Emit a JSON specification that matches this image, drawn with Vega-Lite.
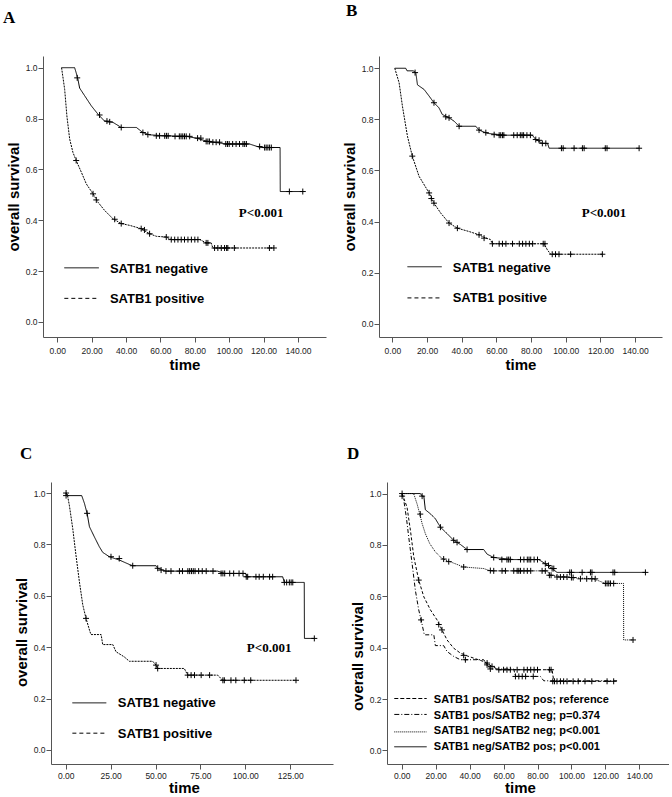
{
"$schema": "https://vega.github.io/schema/vega-lite/v6.json",
"background": "white",
"padding": {"left": 0, "top": 2, "right": 0, "bottom": 0},
"config": {
  "view": {"stroke": null},
  "axis": {"grid": false, "domainColor": "#555", "tickColor": "#555", "labelColor": "#222", "labelFont": "Liberation Sans", "labelFontSize": 8.5, "titleFont": "Liberation Sans", "titleFontSize": 15, "titleFontWeight": "bold", "titleColor": "#000", "tickSize": 5},
  "axisY": {"labelPadding": 1, "titlePadding": 4},
  "title": {"font": "Liberation Serif", "fontSize": 17, "fontWeight": "bold", "color": "#000", "anchor": "start", "frame": "group", "baseline": "alphabetic", "align": "left"}
},
"datasets": {
  "A_curve": [
    {"group":"neg","t":2.5,"s":1.0},{"group":"neg","t":10.1,"s":1.0},{"group":"neg","t":11,"s":0.98},{"group":"neg","t":12,"s":0.955},{"group":"neg","t":13,"s":0.92},{"group":"neg","t":16,"s":0.889},{"group":"neg","t":19.8,"s":0.85},{"group":"neg","t":23.7,"s":0.817},{"group":"neg","t":27.5,"s":0.79},{"group":"neg","t":32.4,"s":0.785},{"group":"neg","t":37.2,"s":0.765},{"group":"neg","t":46,"s":0.765},{"group":"neg","t":49.8,"s":0.745},{"group":"neg","t":53.7,"s":0.736},{"group":"neg","t":63.4,"s":0.732},{"group":"neg","t":75,"s":0.73},{"group":"neg","t":80.8,"s":0.723},{"group":"neg","t":87.6,"s":0.71},{"group":"neg","t":98.3,"s":0.70},{"group":"neg","t":111.8,"s":0.70},{"group":"neg","t":117.7,"s":0.687},{"group":"neg","t":129.6,"s":0.686},{"group":"neg","t":129.7,"s":0.513},{"group":"neg","t":142.8,"s":0.513},
    {"group":"pos","t":2.5,"s":1.0},{"group":"pos","t":4.3,"s":0.915},{"group":"pos","t":5.6,"s":0.81},{"group":"pos","t":7.2,"s":0.72},{"group":"pos","t":9.1,"s":0.667},{"group":"pos","t":11,"s":0.635},{"group":"pos","t":14,"s":0.589},{"group":"pos","t":16.9,"s":0.543},{"group":"pos","t":20.8,"s":0.504},{"group":"pos","t":23.7,"s":0.471},{"group":"pos","t":27.5,"s":0.439},{"group":"pos","t":32.4,"s":0.406},{"group":"pos","t":37.2,"s":0.387},{"group":"pos","t":42.1,"s":0.38},{"group":"pos","t":48.8,"s":0.367},{"group":"pos","t":53.7,"s":0.347},{"group":"pos","t":57.6,"s":0.337},{"group":"pos","t":63.4,"s":0.334},{"group":"pos","t":66.3,"s":0.324},{"group":"pos","t":83,"s":0.324},{"group":"pos","t":86.6,"s":0.311},{"group":"pos","t":89.5,"s":0.311},{"group":"pos","t":90.5,"s":0.291},{"group":"pos","t":126,"s":0.291}
  ],
  "A_cens": [
    {"t":11.6,"s":0.96},{"t":24.6,"s":0.814},{"t":28.9,"s":0.79},{"t":30.5,"s":0.787},{"t":37.2,"s":0.765},{"t":49.8,"s":0.745},{"t":52.7,"s":0.737},{"t":57.6,"s":0.732},{"t":59.5,"s":0.732},{"t":62.5,"s":0.732},{"t":63.5,"s":0.732},{"t":64.5,"s":0.732},{"t":68.5,"s":0.73},{"t":71,"s":0.73},{"t":72,"s":0.73},{"t":73,"s":0.73},{"t":74,"s":0.73},{"t":75,"s":0.73},{"t":77,"s":0.73},{"t":81.6,"s":0.723},{"t":83.5,"s":0.723},{"t":86.6,"s":0.71},{"t":87.6,"s":0.71},{"t":88.5,"s":0.71},{"t":90.5,"s":0.707},{"t":92.4,"s":0.707},{"t":94.4,"s":0.707},{"t":98,"s":0.70},{"t":99,"s":0.70},{"t":100,"s":0.70},{"t":102,"s":0.70},{"t":104,"s":0.70},{"t":106,"s":0.70},{"t":108,"s":0.70},{"t":109,"s":0.70},{"t":110,"s":0.70},{"t":117.7,"s":0.69},{"t":120.6,"s":0.686},{"t":121.5,"s":0.686},{"t":122.5,"s":0.686},{"t":123.5,"s":0.686},{"t":124.5,"s":0.686},{"t":135,"s":0.513},{"t":142.8,"s":0.513},
    {"t":11,"s":0.635},{"t":20.8,"s":0.504},{"t":22.7,"s":0.48},{"t":33.4,"s":0.404},{"t":37.2,"s":0.387},{"t":48.8,"s":0.367},{"t":50.7,"s":0.362},{"t":53.7,"s":0.347},{"t":63.4,"s":0.334},{"t":66.3,"s":0.324},{"t":68.3,"s":0.324},{"t":70.2,"s":0.324},{"t":72.1,"s":0.324},{"t":74,"s":0.324},{"t":76,"s":0.324},{"t":78,"s":0.324},{"t":80,"s":0.324},{"t":81.8,"s":0.324},{"t":86.6,"s":0.311},{"t":87.6,"s":0.311},{"t":91.5,"s":0.291},{"t":93.4,"s":0.291},{"t":95.4,"s":0.291},{"t":97.3,"s":0.291},{"t":98.5,"s":0.291},{"t":99.2,"s":0.291},{"t":103,"s":0.291},{"t":123.4,"s":0.291},{"t":126,"s":0.291}
  ],
  "A_leg": [{"group":"neg","t":4.1,"t2":24.2,"s":0.213},{"group":"pos","t":4.1,"t2":24.2,"s":0.093}],
  "A_text": [{"text":"SATB1 negative","t":30.6,"s":0.194},{"text":"SATB1 positive","t":30.6,"s":0.076}],
  "A_p": [{"text":"P<0.001","t":105.6,"s":0.411}],
  "B_curve": [
    {"group":"neg","t":1.4,"s":1.0},{"group":"neg","t":7.7,"s":1.0},{"group":"neg","t":8.5,"s":0.99},{"group":"neg","t":12,"s":0.99},{"group":"neg","t":13.5,"s":0.983},{"group":"neg","t":14.5,"s":0.935},{"group":"neg","t":18.3,"s":0.917},{"group":"neg","t":21.2,"s":0.891},{"group":"neg","t":24,"s":0.865},{"group":"neg","t":26.9,"s":0.845},{"group":"neg","t":28.8,"s":0.819},{"group":"neg","t":32.7,"s":0.806},{"group":"neg","t":35.6,"s":0.793},{"group":"neg","t":38.5,"s":0.773},{"group":"neg","t":48.1,"s":0.773},{"group":"neg","t":50,"s":0.758},{"group":"neg","t":54.8,"s":0.745},{"group":"neg","t":65.4,"s":0.738},{"group":"neg","t":80.7,"s":0.738},{"group":"neg","t":82.7,"s":0.721},{"group":"neg","t":86.5,"s":0.706},{"group":"neg","t":89.5,"s":0.706},{"group":"neg","t":90.4,"s":0.687},{"group":"neg","t":142.3,"s":0.687},
    {"group":"pos","t":1.4,"s":1.0},{"group":"pos","t":3.9,"s":0.943},{"group":"pos","t":5.8,"s":0.852},{"group":"pos","t":8.7,"s":0.734},{"group":"pos","t":11.5,"s":0.656},{"group":"pos","t":15.4,"s":0.577},{"group":"pos","t":21.2,"s":0.512},{"group":"pos","t":24,"s":0.472},{"group":"pos","t":27.9,"s":0.433},{"group":"pos","t":32.7,"s":0.394},{"group":"pos","t":37.5,"s":0.374},{"group":"pos","t":44.2,"s":0.361},{"group":"pos","t":50,"s":0.348},{"group":"pos","t":53.9,"s":0.335},{"group":"pos","t":56.5,"s":0.33},{"group":"pos","t":57.7,"s":0.313},{"group":"pos","t":87.5,"s":0.313},{"group":"pos","t":89.4,"s":0.289},{"group":"pos","t":91.3,"s":0.272},{"group":"pos","t":121.1,"s":0.272}
  ],
  "B_cens": [
    {"t":13.1,"s":0.983},{"t":24,"s":0.865},{"t":30.8,"s":0.81},{"t":32.7,"s":0.806},{"t":38.5,"s":0.773},{"t":50,"s":0.758},{"t":53.9,"s":0.748},{"t":58.7,"s":0.74},{"t":61.6,"s":0.738},{"t":62.5,"s":0.738},{"t":63.5,"s":0.738},{"t":64.3,"s":0.738},{"t":70,"s":0.738},{"t":72,"s":0.738},{"t":73.8,"s":0.738},{"t":74.8,"s":0.738},{"t":75.7,"s":0.738},{"t":77.6,"s":0.738},{"t":79.6,"s":0.738},{"t":82.7,"s":0.721},{"t":84.6,"s":0.718},{"t":86.5,"s":0.706},{"t":88.5,"s":0.706},{"t":97.5,"s":0.687},{"t":98.5,"s":0.687},{"t":104.8,"s":0.687},{"t":109.6,"s":0.687},{"t":110.6,"s":0.687},{"t":122.8,"s":0.687},{"t":123.8,"s":0.687},{"t":142.3,"s":0.687},
    {"t":11.5,"s":0.656},{"t":21.2,"s":0.512},{"t":22.5,"s":0.49},{"t":24,"s":0.472},{"t":32.7,"s":0.394},{"t":37.5,"s":0.374},{"t":50,"s":0.348},{"t":52.9,"s":0.335},{"t":57.7,"s":0.313},{"t":61.6,"s":0.313},{"t":63.5,"s":0.313},{"t":65.5,"s":0.313},{"t":69.3,"s":0.313},{"t":73.2,"s":0.313},{"t":75.1,"s":0.313},{"t":77,"s":0.313},{"t":79,"s":0.313},{"t":80.9,"s":0.313},{"t":87,"s":0.313},{"t":88,"s":0.313},{"t":92.2,"s":0.272},{"t":94.1,"s":0.272},{"t":96.1,"s":0.272},{"t":102.8,"s":0.272},{"t":121.1,"s":0.272}
  ],
  "B_leg": [{"group":"neg","t":8.7,"t2":28.5,"s":0.223},{"group":"pos","t":8.7,"t2":28.5,"s":0.101}],
  "B_text": [{"text":"SATB1 negative","t":34.8,"s":0.201},{"text":"SATB1 positive","t":34.8,"s":0.084}],
  "B_p": [{"text":"P<0.001","t":109.2,"s":0.419}],
  "C_curve": [
    {"group":"neg","t":0.2,"s":1.0},{"group":"neg","t":1.5,"s":0.99},{"group":"neg","t":8.9,"s":0.99},{"group":"neg","t":10.4,"s":0.96},{"group":"neg","t":11.9,"s":0.921},{"group":"neg","t":13.2,"s":0.869},{"group":"neg","t":15.9,"s":0.83},{"group":"neg","t":18.7,"s":0.791},{"group":"neg","t":20.6,"s":0.769},{"group":"neg","t":24.3,"s":0.752},{"group":"neg","t":29.9,"s":0.739},{"group":"neg","t":35.4,"s":0.722},{"group":"neg","t":37.3,"s":0.717},{"group":"neg","t":50.3,"s":0.717},{"group":"neg","t":51.2,"s":0.707},{"group":"neg","t":55.8,"s":0.696},{"group":"neg","t":84.6,"s":0.696},{"group":"neg","t":88.3,"s":0.687},{"group":"neg","t":100,"s":0.687},{"group":"neg","t":101.3,"s":0.674},{"group":"neg","t":120.8,"s":0.674},{"group":"neg","t":121.7,"s":0.652},{"group":"neg","t":132.8,"s":0.652},{"group":"neg","t":132.9,"s":0.434},{"group":"neg","t":138.4,"s":0.434},
    {"group":"pos","t":0.2,"s":1.0},{"group":"pos","t":1,"s":0.99},{"group":"pos","t":2,"s":0.953},{"group":"pos","t":3.9,"s":0.862},{"group":"pos","t":5.7,"s":0.758},{"group":"pos","t":7.6,"s":0.655},{"group":"pos","t":9.5,"s":0.564},{"group":"pos","t":11.3,"s":0.512},{"group":"pos","t":13.5,"s":0.46},{"group":"pos","t":14.1,"s":0.449},{"group":"pos","t":19.7,"s":0.449},{"group":"pos","t":20.6,"s":0.41},{"group":"pos","t":26.2,"s":0.41},{"group":"pos","t":28,"s":0.382},{"group":"pos","t":32.6,"s":0.362},{"group":"pos","t":35.4,"s":0.345},{"group":"pos","t":48.4,"s":0.345},{"group":"pos","t":50.3,"s":0.33},{"group":"pos","t":51.2,"s":0.317},{"group":"pos","t":66,"s":0.317},{"group":"pos","t":67.9,"s":0.291},{"group":"pos","t":84.6,"s":0.291},{"group":"pos","t":87.4,"s":0.271},{"group":"pos","t":128.2,"s":0.271}
  ],
  "C_cens": [
    {"t":0.2,"s":1.0},{"t":11.9,"s":0.921},{"t":25.2,"s":0.752},{"t":29.8,"s":0.745},{"t":37.3,"s":0.717},{"t":51.2,"s":0.707},{"t":53.1,"s":0.70},{"t":55.8,"s":0.696},{"t":58.6,"s":0.696},{"t":63.3,"s":0.696},{"t":65,"s":0.696},{"t":68,"s":0.696},{"t":69,"s":0.696},{"t":70,"s":0.696},{"t":71,"s":0.696},{"t":72,"s":0.696},{"t":74,"s":0.696},{"t":76,"s":0.696},{"t":78.2,"s":0.696},{"t":82,"s":0.696},{"t":86.5,"s":0.687},{"t":87.5,"s":0.687},{"t":88.5,"s":0.687},{"t":91.3,"s":0.687},{"t":93.5,"s":0.687},{"t":96.5,"s":0.687},{"t":98.7,"s":0.687},{"t":100.5,"s":0.674},{"t":101.3,"s":0.674},{"t":105.9,"s":0.674},{"t":107.7,"s":0.674},{"t":110,"s":0.674},{"t":113.5,"s":0.674},{"t":115.2,"s":0.674},{"t":121.7,"s":0.652},{"t":123,"s":0.652},{"t":124.5,"s":0.652},{"t":125.5,"s":0.652},{"t":126.4,"s":0.652},{"t":138.4,"s":0.434},
    {"t":0.2,"s":0.99},{"t":11.3,"s":0.512},{"t":50.3,"s":0.33},{"t":51.2,"s":0.317},{"t":67.9,"s":0.291},{"t":69.8,"s":0.291},{"t":71.7,"s":0.291},{"t":75.4,"s":0.291},{"t":80.1,"s":0.291},{"t":87.5,"s":0.271},{"t":88.3,"s":0.271},{"t":92,"s":0.271},{"t":94.7,"s":0.271},{"t":99.4,"s":0.271},{"t":103,"s":0.271},{"t":128.2,"s":0.271}
  ],
  "C_leg": [{"group":"neg","t":3.7,"t2":22.6,"s":0.183},{"group":"pos","t":3.7,"t2":22.6,"s":0.065}],
  "C_text": [{"text":"SATB1 negative","t":29,"s":0.166},{"text":"SATB1 positive","t":29,"s":0.048}],
  "C_p": [{"text":"P<0.001","t":100.8,"s":0.383}],
  "D_curve": [
    {"group":"negpos","t":0.2,"s":1.0},{"group":"negpos","t":11,"s":1.0},{"group":"negpos","t":12,"s":0.99},{"group":"negpos","t":13,"s":0.99},{"group":"negpos","t":13.9,"s":0.937},{"group":"negpos","t":16.9,"s":0.921},{"group":"negpos","t":19.8,"s":0.902},{"group":"negpos","t":22.8,"s":0.869},{"group":"negpos","t":26.7,"s":0.844},{"group":"negpos","t":30.6,"s":0.818},{"group":"negpos","t":34.5,"s":0.802},{"group":"negpos","t":38.5,"s":0.782},{"group":"negpos","t":48.3,"s":0.782},{"group":"negpos","t":50.3,"s":0.764},{"group":"negpos","t":54.2,"s":0.751},{"group":"negpos","t":66,"s":0.743},{"group":"negpos","t":80.7,"s":0.743},{"group":"negpos","t":84.6,"s":0.727},{"group":"negpos","t":88.6,"s":0.708},{"group":"negpos","t":91.5,"s":0.693},{"group":"negpos","t":143.6,"s":0.693},
    {"group":"negneg","t":0.2,"s":1.0},{"group":"negneg","t":7,"s":1.0},{"group":"negneg","t":7.5,"s":0.99},{"group":"negneg","t":9,"s":0.96},{"group":"negneg","t":10.6,"s":0.921},{"group":"negneg","t":12,"s":0.883},{"group":"negneg","t":13.9,"s":0.844},{"group":"negneg","t":16.5,"s":0.805},{"group":"negneg","t":19.8,"s":0.773},{"group":"negneg","t":23.7,"s":0.747},{"group":"negneg","t":28.7,"s":0.734},{"group":"negneg","t":36.5,"s":0.714},{"group":"negneg","t":48.3,"s":0.708},{"group":"negneg","t":52.2,"s":0.699},{"group":"negneg","t":85.6,"s":0.699},{"group":"negneg","t":87.6,"s":0.682},{"group":"negneg","t":99.4,"s":0.673},{"group":"negneg","t":113.1,"s":0.668},{"group":"negneg","t":120,"s":0.65},{"group":"negneg","t":130.7,"s":0.65},{"group":"negneg","t":130.8,"s":0.43},{"group":"negneg","t":136.3,"s":0.43},
    {"group":"posneg","t":0.2,"s":1.0},{"group":"posneg","t":1.2,"s":0.973},{"group":"posneg","t":2.7,"s":0.908},{"group":"posneg","t":4.1,"s":0.831},{"group":"posneg","t":6.1,"s":0.727},{"group":"posneg","t":8,"s":0.624},{"group":"posneg","t":10,"s":0.547},{"group":"posneg","t":11.4,"s":0.508},{"group":"posneg","t":13.3,"s":0.45},{"group":"posneg","t":18.9,"s":0.45},{"group":"posneg","t":19.8,"s":0.408},{"group":"posneg","t":24.7,"s":0.408},{"group":"posneg","t":26.7,"s":0.385},{"group":"posneg","t":30.6,"s":0.366},{"group":"posneg","t":34.5,"s":0.353},{"group":"posneg","t":48.3,"s":0.353},{"group":"posneg","t":50.3,"s":0.333},{"group":"posneg","t":52.2,"s":0.317},{"group":"posneg","t":66,"s":0.317},{"group":"posneg","t":67,"s":0.288},{"group":"posneg","t":81.7,"s":0.288},{"group":"posneg","t":83.7,"s":0.271},{"group":"posneg","t":126.9,"s":0.271},
    {"group":"pospos","t":0.2,"s":1.0},{"group":"pospos","t":3.1,"s":0.947},{"group":"pospos","t":5.1,"s":0.857},{"group":"pospos","t":7.1,"s":0.753},{"group":"pospos","t":10,"s":0.663},{"group":"pospos","t":13,"s":0.598},{"group":"pospos","t":16.9,"s":0.547},{"group":"pospos","t":20.8,"s":0.508},{"group":"pospos","t":23.7,"s":0.469},{"group":"pospos","t":26.7,"s":0.43},{"group":"pospos","t":30.6,"s":0.398},{"group":"pospos","t":34.5,"s":0.379},{"group":"pospos","t":38.5,"s":0.368},{"group":"pospos","t":48.3,"s":0.346},{"group":"pospos","t":53.2,"s":0.327},{"group":"pospos","t":57.2,"s":0.314},{"group":"pospos","t":88.6,"s":0.314},{"group":"pospos","t":89.6,"s":0.269},{"group":"pospos","t":124.9,"s":0.269}
  ],
  "D_cens": [
    {"t":12,"s":0.99},{"t":22.8,"s":0.869},{"t":30.6,"s":0.818},{"t":32.6,"s":0.81},{"t":38.5,"s":0.782},{"t":54.2,"s":0.751},{"t":59,"s":0.743},{"t":62,"s":0.743},{"t":63,"s":0.743},{"t":64,"s":0.743},{"t":70,"s":0.743},{"t":72,"s":0.743},{"t":74,"s":0.743},{"t":75,"s":0.743},{"t":76,"s":0.743},{"t":78,"s":0.743},{"t":80,"s":0.743},{"t":84.6,"s":0.727},{"t":86.5,"s":0.72},{"t":88.6,"s":0.708},{"t":89.6,"s":0.708},{"t":99,"s":0.693},{"t":100,"s":0.693},{"t":106.3,"s":0.693},{"t":111.2,"s":0.693},{"t":112.1,"s":0.693},{"t":124.5,"s":0.693},{"t":125.5,"s":0.693},{"t":143.6,"s":0.693},
    {"t":0.2,"s":1.0},{"t":10.9,"s":0.92},{"t":24.7,"s":0.745},{"t":27.7,"s":0.735},{"t":36.5,"s":0.714},{"t":52.2,"s":0.70},{"t":54.2,"s":0.699},{"t":59.1,"s":0.699},{"t":61.1,"s":0.699},{"t":66,"s":0.699},{"t":68,"s":0.699},{"t":69,"s":0.699},{"t":70,"s":0.699},{"t":72,"s":0.699},{"t":74,"s":0.699},{"t":76,"s":0.699},{"t":82.7,"s":0.699},{"t":84.6,"s":0.699},{"t":87,"s":0.682},{"t":88,"s":0.682},{"t":91.5,"s":0.675},{"t":93.5,"s":0.675},{"t":95.4,"s":0.675},{"t":97.4,"s":0.675},{"t":100,"s":0.673},{"t":101,"s":0.673},{"t":105.3,"s":0.668},{"t":109,"s":0.668},{"t":112,"s":0.668},{"t":114,"s":0.668},{"t":120,"s":0.65},{"t":121,"s":0.65},{"t":122,"s":0.65},{"t":123,"s":0.65},{"t":124.9,"s":0.65},{"t":136.3,"s":0.43},
    {"t":0.2,"s":0.99},{"t":11.4,"s":0.508},{"t":37.5,"s":0.353},{"t":50.3,"s":0.333},{"t":52.2,"s":0.317},{"t":67,"s":0.288},{"t":69,"s":0.288},{"t":71,"s":0.288},{"t":73,"s":0.288},{"t":77.5,"s":0.288},
    {"t":10,"s":0.663},{"t":21.8,"s":0.49},{"t":23.7,"s":0.469},{"t":36.5,"s":0.37},{"t":50.3,"s":0.34},{"t":53.2,"s":0.327},{"t":57.2,"s":0.314},{"t":60,"s":0.314},{"t":62,"s":0.314},{"t":64,"s":0.314},{"t":68,"s":0.314},{"t":72,"s":0.314},{"t":74,"s":0.314},{"t":76,"s":0.314},{"t":78,"s":0.314},{"t":80,"s":0.314},{"t":87,"s":0.314},{"t":88,"s":0.314},{"t":89,"s":0.269},{"t":90,"s":0.269},{"t":91.5,"s":0.269},{"t":93.5,"s":0.269},{"t":95.4,"s":0.269},{"t":97.4,"s":0.269},{"t":101,"s":0.269},{"t":104,"s":0.269},{"t":108,"s":0.269},{"t":112,"s":0.269},{"t":121,"s":0.269},{"t":124.9,"s":0.269}
  ],
  "D_leg": [{"group":"pospos","t":-4.4,"t2":14.7,"s":0.202},{"group":"posneg","t":-4.4,"t2":14.7,"s":0.14},{"group":"negneg","t":-4.4,"t2":14.7,"s":0.072},{"group":"negpos","t":-4.4,"t2":14.7,"s":0.014}],
  "D_text": [{"text":"SATB1 pos/SATB2 pos; reference","t":18.9,"s":0.196},{"text":"SATB1 pos/SATB2 neg; p=0.374","t":18.9,"s":0.134},{"text":"SATB1 neg/SATB2 neg; p<0.001","t":18.9,"s":0.074},{"text":"SATB1 neg/SATB2 pos; p<0.001","t":18.9,"s":0.014}]
},
"spacing": 72,
"vconcat": [
 {"hconcat": [
  {"width": 1, "height": 1, "data": {"values": []}, "mark": "point"},
  {"hconcat": [
  {"width": 283, "height": 281,
   "title": {"text": "A", "dx": -40, "offset": 29},
   "encoding": {
     "x": {"field": "t", "type": "quantitative", "scale": {"domain": [-8.3, 156.3], "nice": false, "zero": false}, "axis": {"values": [0,20,40,60,80,100,120,140], "format": ".2f", "title": "time", "labelPadding": 4, "titlePadding": 3}},
     "y": {"field": "s", "type": "quantitative", "scale": {"domain": [-0.059, 1.046], "nice": false, "zero": false}, "axis": {"values": [0,0.2,0.4,0.6,0.8,1], "format": ".1f", "title": "overall survival"}}
   },
   "layer": [
     {"data": {"name": "A_curve"}, "mark": {"type": "line", "strokeWidth": 1, "color": "#000"}, "encoding": {"strokeDash": {"field": "group", "type": "nominal", "scale": {"domain": ["neg","pos"], "range": [[1,0],[2,1]]}, "legend": null}}},
     {"data": {"name": "A_cens"}, "mark": {"type": "point", "shape": "M-1,0L1,0M0,-1L0,1", "size": 36, "filled": false, "color": "#000", "strokeWidth": 1, "opacity": 1}},
     {"data": {"name": "A_leg"}, "mark": {"type": "rule", "color": "#000", "strokeWidth": 1}, "encoding": {"x2": {"field": "t2"}, "strokeDash": {"field": "group", "type": "nominal", "scale": {"domain": ["neg","pos"], "range": [[1,0],[4,3]]}, "legend": null}}},
     {"data": {"name": "A_text"}, "mark": {"type": "text", "align": "left", "baseline": "alphabetic", "font": "Liberation Sans", "fontSize": 13, "fontWeight": "bold", "color": "#000"}, "encoding": {"text": {"field": "text"}}},
     {"data": {"name": "A_p"}, "mark": {"type": "text", "align": "left", "baseline": "alphabetic", "font": "Liberation Serif", "fontSize": 13, "fontWeight": "bold", "color": "#000"}, "encoding": {"text": {"field": "text"}}}
   ],
   "resolve": {"scale": {"strokeDash": "independent"}}
  },
  {"width": 283, "height": 281,
   "title": {"text": "B", "dx": -33, "offset": 36},
   "encoding": {
     "x": {"field": "t", "type": "quantitative", "scale": {"domain": [-7.7, 155.5], "nice": false, "zero": false}, "axis": {"values": [0,20,40,60,80,100,120,140], "format": ".2f", "title": "time", "labelPadding": 4, "titlePadding": 3}},
     "y": {"field": "s", "type": "quantitative", "scale": {"domain": [-0.052, 1.048], "nice": false, "zero": false}, "axis": {"values": [0,0.2,0.4,0.6,0.8,1], "format": ".1f", "title": "overall survival"}}
   },
   "layer": [
     {"data": {"name": "B_curve"}, "mark": {"type": "line", "strokeWidth": 1, "color": "#000"}, "encoding": {"strokeDash": {"field": "group", "type": "nominal", "scale": {"domain": ["neg","pos"], "range": [[1,0],[2,1]]}, "legend": null}}},
     {"data": {"name": "B_cens"}, "mark": {"type": "point", "shape": "M-1,0L1,0M0,-1L0,1", "size": 36, "filled": false, "color": "#000", "strokeWidth": 1, "opacity": 1}},
     {"data": {"name": "B_leg"}, "mark": {"type": "rule", "color": "#000", "strokeWidth": 1}, "encoding": {"x2": {"field": "t2"}, "strokeDash": {"field": "group", "type": "nominal", "scale": {"domain": ["neg","pos"], "range": [[1,0],[4,3]]}, "legend": null}}},
     {"data": {"name": "B_text"}, "mark": {"type": "text", "align": "left", "baseline": "alphabetic", "font": "Liberation Sans", "fontSize": 13, "fontWeight": "bold", "color": "#000"}, "encoding": {"text": {"field": "text"}}},
     {"data": {"name": "B_p"}, "mark": {"type": "text", "align": "left", "baseline": "alphabetic", "font": "Liberation Serif", "fontSize": 13, "fontWeight": "bold", "color": "#000"}, "encoding": {"text": {"field": "text"}}}
   ],
   "resolve": {"scale": {"strokeDash": "independent"}}
  }
  ], "spacing": 16}
 ], "spacing": 2},
 {"hconcat": [
  {"width": 1, "height": 1, "data": {"values": []}, "mark": "point"},
  {"hconcat": [
   {"width": 282, "height": 282,
    "title": {"text": "C", "dx": -31, "offset": 19},
    "encoding": {
      "x": {"field": "t", "type": "quantitative", "scale": {"domain": [-8.2, 148.8], "nice": false, "zero": false}, "axis": {"values": [0,25,50,75,100,125], "format": ".2f", "title": "time", "labelPadding": 2, "titlePadding": 1, "titleX": 133}},
      "y": {"field": "s", "type": "quantitative", "scale": {"domain": [-0.055, 1.043], "nice": false, "zero": false}, "axis": {"values": [0,0.2,0.4,0.6,0.8,1], "format": ".1f", "title": "overall survival", "titleY": 150}}
    },
    "layer": [
      {"data": {"name": "C_curve"}, "mark": {"type": "line", "strokeWidth": 1, "color": "#000"}, "encoding": {"strokeDash": {"field": "group", "type": "nominal", "scale": {"domain": ["neg","pos"], "range": [[1,0],[2,1]]}, "legend": null}}},
      {"data": {"name": "C_cens"}, "mark": {"type": "point", "shape": "M-1,0L1,0M0,-1L0,1", "size": 36, "filled": false, "color": "#000", "strokeWidth": 1, "opacity": 1}},
      {"data": {"name": "C_leg"}, "mark": {"type": "rule", "color": "#000", "strokeWidth": 1}, "encoding": {"x2": {"field": "t2"}, "strokeDash": {"field": "group", "type": "nominal", "scale": {"domain": ["neg","pos"], "range": [[1,0],[4,3]]}, "legend": null}}},
      {"data": {"name": "C_text"}, "mark": {"type": "text", "align": "left", "baseline": "alphabetic", "font": "Liberation Sans", "fontSize": 13, "fontWeight": "bold", "color": "#000"}, "encoding": {"text": {"field": "text"}}},
      {"data": {"name": "C_p"}, "mark": {"type": "text", "align": "left", "baseline": "alphabetic", "font": "Liberation Serif", "fontSize": 13, "fontWeight": "bold", "color": "#000"}, "encoding": {"text": {"field": "text"}}}
    ],
    "resolve": {"scale": {"strokeDash": "independent"}}
   },
   {"width": 282, "height": 282,
    "title": {"text": "D", "dx": -40, "offset": 19},
    "encoding": {
      "x": {"field": "t", "type": "quantitative", "scale": {"domain": [-8.7, 157.5], "nice": false, "zero": false}, "axis": {"values": [0,20,40,60,80,100,120,140], "format": ".2f", "title": "time", "labelPadding": 2, "titlePadding": 1, "titleX": 133}},
      "y": {"field": "s", "type": "quantitative", "scale": {"domain": [-0.053, 1.045], "nice": false, "zero": false}, "axis": {"values": [0,0.2,0.4,0.6,0.8,1], "format": ".1f", "title": "overall survival", "titleY": 174}}
    },
    "layer": [
      {"data": {"name": "D_curve"}, "mark": {"type": "line", "strokeWidth": 1, "color": "#000"}, "encoding": {"strokeDash": {"field": "group", "type": "nominal", "scale": {"domain": ["negpos","negneg","posneg","pospos"], "range": [[1,0],[1,1],[4,2,1,2],[3,2]]}, "legend": null}}},
      {"data": {"name": "D_cens"}, "mark": {"type": "point", "shape": "M-1,0L1,0M0,-1L0,1", "size": 36, "filled": false, "color": "#000", "strokeWidth": 1, "opacity": 1}},
      {"data": {"name": "D_leg"}, "mark": {"type": "rule", "color": "#000", "strokeWidth": 1}, "encoding": {"x2": {"field": "t2"}, "strokeDash": {"field": "group", "type": "nominal", "scale": {"domain": ["negpos","negneg","posneg","pospos"], "range": [[1,0],[1,1],[5,2,1,2],[4,2]]}, "legend": null}}},
      {"data": {"name": "D_text"}, "mark": {"type": "text", "align": "left", "baseline": "middle", "font": "Liberation Sans", "fontSize": 11, "fontWeight": "bold", "color": "#000"}, "encoding": {"text": {"field": "text"}}}
    ],
    "resolve": {"scale": {"strokeDash": "independent"}}
   }
  ], "spacing": 14}
 ], "spacing": 13}
]
}
